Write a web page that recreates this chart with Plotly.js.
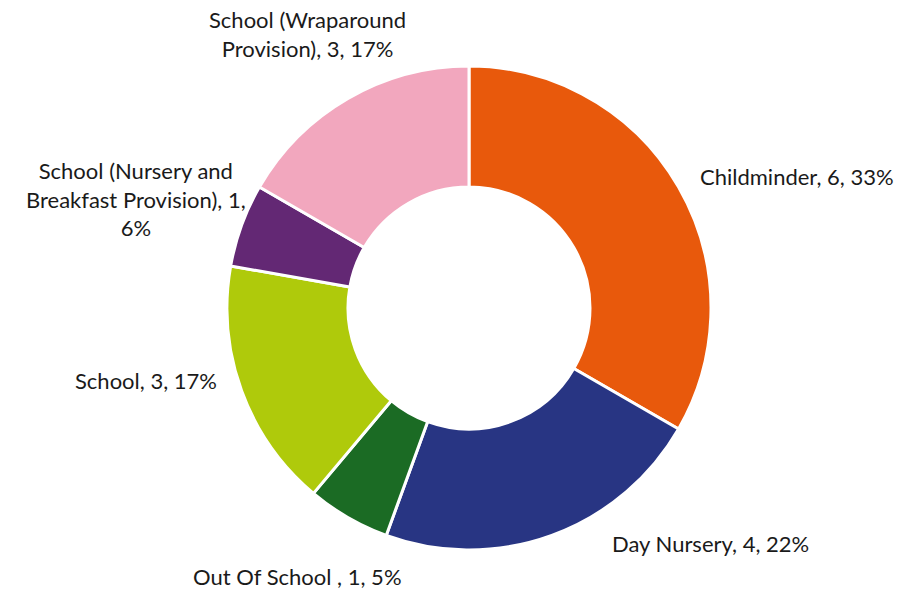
<!DOCTYPE html>
<html>
<head>
<meta charset="utf-8">
<script src="https://cdn.plot.ly/plotly-3.0.1.min.js"></script>
<style>html,body{margin:0;padding:0;background:#fff;}#chart{width:899px;height:592px;}</style>
</head>
<body>
<div id="chart"></div>
<script>
const categories = ["Childminder", "Day Nursery", "Out Of School ", "School", "School (Nursery and Breakfast Provision)", "School (Wraparound Provision)"];
const values = [6, 4, 1, 3, 1, 3];
const percentLabels = ["33%", "22%", "5%", "17%", "6%", "17%"];
const labelLines = [
  "Childminder, 6, 33%",
  "Day Nursery, 4, 22%",
  "Out Of School , 1, 5%",
  "School, 3, 17%",
  "School (Nursery and<br>Breakfast Provision), 1,<br>6%",
  "School (Wraparound<br>Provision), 3, 17%"
];
const colors = ["#E8590C", "#283583", "#1B6B24", "#AFCA0B", "#632874", "#F2A7BE"];

const W = 899, H = 592;
const cx = 469, cy = 308, R = 242;
// label centres in pixels
const labelPos = [[797, 176], [710, 543], [297, 576], [146, 381], [136, 199], [307, 34]];

const trace = {
  type: "pie",
  labels: categories,
  values: values,
  sort: false,
  direction: "clockwise",
  rotation: 0,
  hole: 0.5,
  textinfo: "none",
  hoverinfo: "label+value+percent",
  marker: {colors: colors, line: {color: "#ffffff", width: 3}},
  domain: {x: [(cx - R) / W, (cx + R) / W], y: [(H - cy - R) / H, (H - cy + R) / H]},
  showlegend: false
};

const annotations = labelLines.map((t, i) => ({
  text: t,
  x: labelPos[i][0] / W,
  y: 1 - labelPos[i][1] / H,
  xref: "paper", yref: "paper",
  xanchor: "center", yanchor: "middle",
  align: "center",
  showarrow: false,
  font: {family: "Lato, 'Noto Sans', sans-serif", size: 22, color: "#1a1a1a"}
}));

const layout = {
  width: W, height: H,
  margin: {l: 0, r: 0, t: 0, b: 0},
  paper_bgcolor: "#ffffff",
  annotations: annotations
};

Plotly.newPlot("chart", [trace], layout, {displayModeBar: false, staticPlot: true});
</script>
</body>
</html>
